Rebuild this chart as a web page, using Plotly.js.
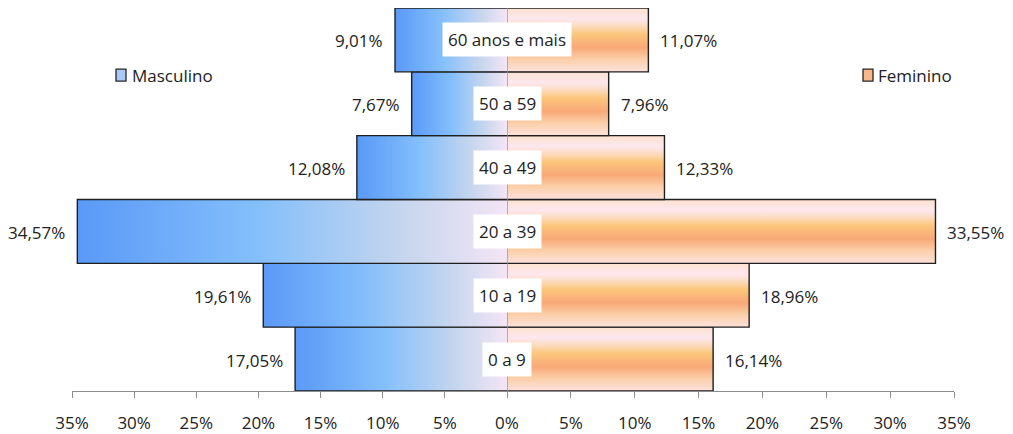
<!DOCTYPE html>
<html>
<head>
<meta charset="utf-8">
<script src="https://cdn.plot.ly/plotly-3.0.1.min.js"></script>
<style>html,body{margin:0;padding:0;background:#fff;}#chart{width:1013px;height:434px;}</style>
</head>
<body>
<div id="chart"></div>
<script>
// ---- data ----
var categories = ["0 a 9", "10 a 19", "20 a 39", "40 a 49", "50 a 59", "60 anos e mais"];
var masculino = [17.05, 19.61, 34.57, 12.08, 7.67, 9.01];
var feminino  = [16.14, 18.96, 33.55, 12.33, 7.96, 11.07];
var seriesNames = ["Masculino", "Feminino"];
var tickValues = [0, 5, 10, 15, 20, 25, 30, 35];
var tickLabels = ["0%", "5%", "10%", "15%", "20%", "25%", "30%", "35%"];

// ---- style ----
var FONT = "'Open Sans', sans-serif";
var TXT = "#222222";
var maleScale = [[0, "#5a99f7"], [0.42, "#84bffb"], [0.75, "#c4d5ee"], [1, "#f4e5f5"]];
var femaleScale = [[0, "#fde1dc"], [0.2, "#fbcfa8"], [0.38, "#f9a877"], [0.59, "#fbc67c"],
                   [0.72, "#fcdcc0"], [0.83, "#fde7ef"], [1, "#fde2cf"]];
function fmt(v) { return v.toFixed(2).replace(".", ",") + "%"; }

var traces = [];
var annotations = [];
categories.forEach(function (cat, i) {
  var m = masculino[i], f = feminino[i];
  traces.push({
    type: "scatter", mode: "lines", xaxis: "x", yaxis: "y",
    x: [0, -m, -m, 0], y: [i - 0.5, i - 0.5, i + 0.5, i + 0.5],
    fill: "toself", fillgradient: {type: "horizontal", colorscale: maleScale},
    line: {color: "#1f1f1f", width: 1.4},
    name: seriesNames[0], showlegend: false,
    hovertemplate: cat + ": " + fmt(m) + "<extra>" + seriesNames[0] + "</extra>"
  });
  traces.push({
    type: "scatter", mode: "lines", xaxis: "x2", yaxis: "y",
    x: [0, f, f, 0], y: [i - 0.5, i - 0.5, i + 0.5, i + 0.5],
    fill: "toself", fillgradient: {type: "vertical", colorscale: femaleScale},
    line: {color: "#1f1f1f", width: 1.4},
    name: seriesNames[1], showlegend: false,
    hovertemplate: cat + ": " + fmt(f) + "<extra>" + seriesNames[1] + "</extra>"
  });
  annotations.push({xref: "x", yref: "y", x: -m, y: i, text: fmt(m), showarrow: false,
    xanchor: "right", xshift: -10, yshift: -1, font: {family: FONT, size: 17, color: TXT}});
  annotations.push({xref: "x2", yref: "y", x: f, y: i, text: fmt(f), showarrow: false,
    xanchor: "left", xshift: 10, yshift: -1, font: {family: FONT, size: 17, color: TXT}});
  annotations.push({xref: "x2", yref: "y", x: 0, y: i, text: cat, showarrow: false,
    xanchor: "center", bgcolor: "#ffffff", borderpad: 5,
    font: {family: FONT, size: 17, color: TXT}});
});

// manual legend entries
var legendY = 0.825;
annotations.push({xref: "paper", yref: "paper", x: (130 - 72) / 882, y: legendY, text: seriesNames[0],
  showarrow: false, xanchor: "left", yanchor: "middle", font: {family: FONT, size: 17, color: TXT}});
annotations.push({xref: "paper", yref: "paper", x: (876 - 72) / 882, y: legendY, text: seriesNames[1],
  showarrow: false, xanchor: "left", yanchor: "middle", font: {family: FONT, size: 17, color: TXT}});

var shapes = [
  {type: "line", xref: "x2", yref: "paper", x0: 0, x1: 0, y0: 0, y1: 1,
   line: {color: "#9a9a9a", width: 1.5}, layer: "above"},
  {type: "rect", xref: "paper", yref: "paper", x0: (116 - 72) / 882, x1: (126 - 72) / 882,
   y0: legendY - 6 / 383, y1: legendY + 6 / 383, fillcolor: "#a8cbf6",
   line: {color: "#262626", width: 1.3}},
  {type: "rect", xref: "paper", yref: "paper", x0: (863 - 72) / 882, x1: (873 - 72) / 882,
   y0: legendY - 6 / 383, y1: legendY + 6 / 383, fillcolor: "#f9b88c",
   line: {color: "#262626", width: 1.3}}
];

var split = (507 - 72) / 882;
var axisCommon = {
  showgrid: false, zeroline: false, showline: true, linecolor: "#8c8c8c", linewidth: 1.3,
  ticks: "outside", ticklen: 6, tickcolor: "#8c8c8c", tickwidth: 1.3,
  tickfont: {family: FONT, size: 17, color: TXT}, ticklabelstandoff: 10, fixedrange: true
};
var layout = {
  width: 1013, height: 434,
  margin: {l: 72, r: 59, t: 8, b: 43},
  paper_bgcolor: "#ffffff", plot_bgcolor: "#ffffff",
  showlegend: false,
  xaxis: Object.assign({}, axisCommon, {domain: [0, split], range: [-35, 0], anchor: "y",
    tickvals: tickValues.map(function (v) { return -v; }), ticktext: tickLabels}),
  xaxis2: Object.assign({}, axisCommon, {domain: [split, 1], range: [0, 35], anchor: "y",
    tickvals: tickValues.slice(1), ticktext: tickLabels.slice(1)}),
  yaxis: {range: [-0.5, categories.length - 0.5], visible: false, fixedrange: true},
  annotations: annotations,
  shapes: shapes,
  font: {family: FONT, color: TXT}
};

Plotly.newPlot("chart", traces, layout, {displayModeBar: false, staticPlot: false});
</script>
</body>
</html>
